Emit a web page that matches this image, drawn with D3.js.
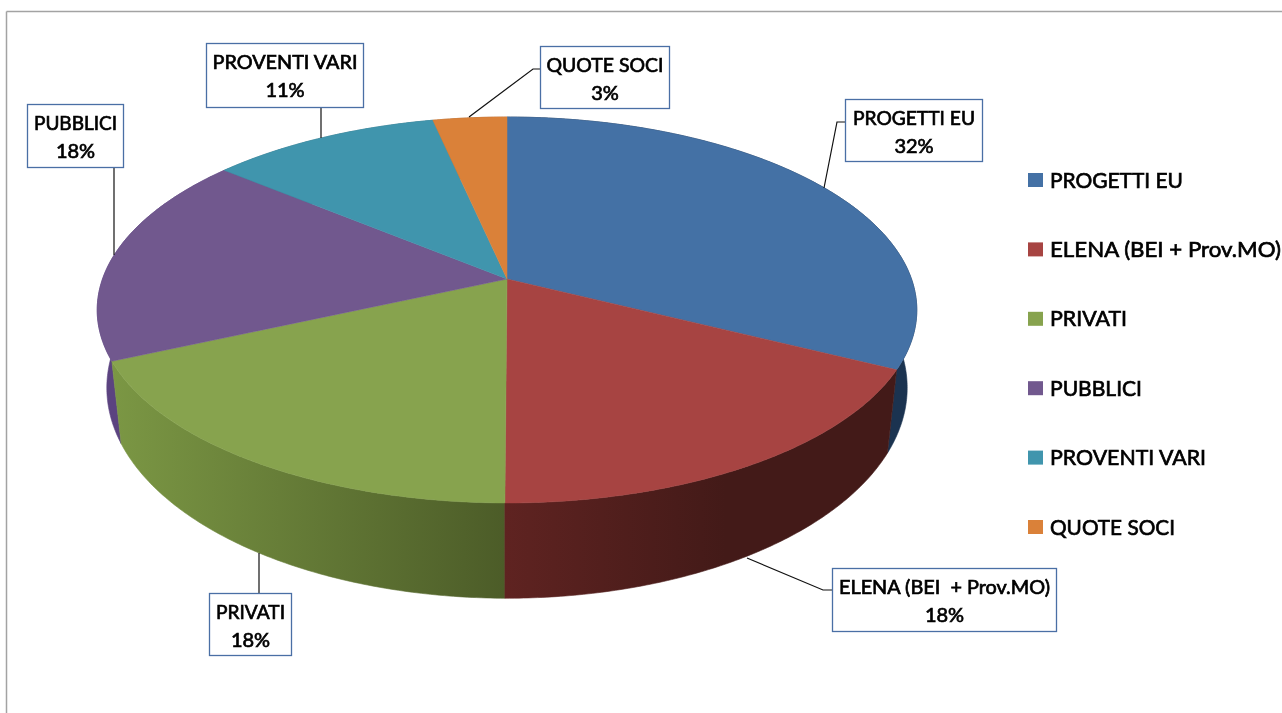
<!DOCTYPE html>
<html>
<head>
<meta charset="utf-8">
<script src="https://cdn.jsdelivr.net/npm/d3@7/dist/d3.min.js"></script>
<style>
html,body{margin:0;padding:0;background:#fff;overflow:hidden}
svg{display:block}
text{font-family:Lato,"Open Sans",sans-serif;fill:#000;white-space:pre;stroke:#000;stroke-width:.7px}
</style>
</head>
<body>
<div id="chart"></div>
<script>
// ---- data ----
const categories = ["PROGETTI EU","ELENA (BEI + Prov.MO)","PRIVATI","PUBBLICI","PROVENTI VARI","QUOTE SOCI"];
const labelNames = ["PROGETTI EU","ELENA (BEI  + Prov.MO)","PRIVATI","PUBBLICI","PROVENTI VARI","QUOTE SOCI"];
const values = [32.4,17.67,18.23,17.7,10.6,3.4];

// ---- styles ----
const topColors = ["#4471a5","#a74442","#87a34e","#71588e","#4095ad","#da8139"];
const sideStops = [
  ["#1b3350","#1b3350"],
  ["#5f2321","#431a18"],
  ["#7b9744","#4c5c28"],
  ["#5b4380","#5b4380"],
  ["#2f6f80","#2f6f80"],
  ["#a55f28","#a55f28"]
];

// ---- layout ----
const W = 1282, H = 713;
const K = 0.1606;                                    // perspective strength
const topPlane = {cx:507, cy:279, rx:404.5, ry:188}; // upper face
const lowPlane = {cx:507, cy:354, rx:395, ry:205};   // lower face
const boxes = [
  {x:845,y:99, w:137,h:62, tw:122, leader:[[845,122],[837,122],[824,188]]},
  {x:832,y:568,w:224,h:63, tw:211, leader:[[832,590],[823,590],[747,558]]},
  {x:209,y:593,w:82, h:62, tw:69,  leader:[[259,593],[259,553]]},
  {x:27, y:104,w:96, h:63, tw:83,  leader:[[114,167],[114,255]]},
  {x:206,y:43, w:157,h:64, tw:145, leader:[[321,107],[321,138]]},
  {x:540,y:46, w:129,h:62, tw:117, leader:[[540,69],[533,69],[469,117]]}
];
const legendTextWidths = [133,231,77,92,156,125];

const svg = d3.select("#chart").append("svg").attr("width",W).attr("height",H);
const defs = svg.append("defs");
defs.append("filter").attr("id","soft").attr("x","-5%").attr("y","-20%").attr("width","110%").attr("height","140%")
  .append("feGaussianBlur").attr("stdDeviation",0.35);

// frame
const frame = svg.append("g").attr("stroke","#a3a3a3").attr("stroke-width",1.5);
frame.append("line").attr("x1",6.5).attr("y1",11.5).attr("x2",W).attr("y2",11.5);
frame.append("line").attr("x1",6.5).attr("y1",11.5).attr("x2",6.5).attr("y2",H);

// pie layout: angle 0 = top, clockwise
const pie = d3.pie().sort(null).value(d=>d)(values);

function project(plane, a){
  const u = Math.sin(a), v = Math.cos(a), d = 1 + K*v;
  return [plane.cx + plane.rx*u/d, plane.cy - plane.ry*v/d];
}
function samples(s){
  const n = Math.max(8, Math.ceil((s.endAngle-s.startAngle)/0.01));
  return d3.range(n+1).map(i=>s.startAngle+(s.endAngle-s.startAngle)*i/n);
}
const line = d3.line();

// side wall gradients
pie.forEach((s,i)=>{
  const xs = samples(s).map(a=>project(topPlane,a)[0]);
  const g = defs.append("linearGradient").attr("id","side"+i)
    .attr("gradientUnits","userSpaceOnUse")
    .attr("x1",d3.min(xs)).attr("x2",i===1?d3.min(xs)+220:d3.max(xs))
    .attr("y1",0).attr("y2",0);
  g.append("stop").attr("offset",0).attr("stop-color",sideStops[i][0]);
  g.append("stop").attr("offset",1).attr("stop-color",sideStops[i][1]);
});

// side walls, back to front
const sides = svg.append("g");
[5,4,0,3,2,1].forEach(i=>{
  const angs = samples(pie[i]);
  const pts = angs.map(a=>project(topPlane,a)).concat(angs.slice().reverse().map(a=>project(lowPlane,a)));
  sides.append("path").attr("d",line(pts)+"Z")
    .attr("fill","url(#side"+i+")")
    .attr("stroke","url(#side"+i+")").attr("stroke-width",.6);
});

// upper faces
const faces = svg.append("g");
pie.forEach((s,i)=>{
  const pts = [[topPlane.cx,topPlane.cy]].concat(samples(s).map(a=>project(topPlane,a)));
  faces.append("path").attr("d",line(pts)+"Z")
    .attr("fill",topColors[i]).attr("stroke",topColors[i]).attr("stroke-width",.5);
});

// leaders and boxed data labels
const total = d3.sum(values);
const pct = d3.format(".0%");
const labels = svg.append("g");
boxes.forEach((b,i)=>{
  labels.append("path").attr("d",line(b.leader)).attr("fill","none")
    .attr("stroke","#111").attr("stroke-width",1.2);
  labels.append("rect").attr("x",b.x+.5).attr("y",b.y+.5).attr("width",b.w).attr("height",b.h)
    .attr("fill","#fff").attr("stroke","#4a6fa5").attr("stroke-width",1.3);
  const cx = b.x + b.w/2 + .5;
  labels.append("text").attr("x",cx).attr("y",b.y+26).attr("text-anchor","middle")
    .attr("font-size",20).attr("textLength",b.tw).attr("lengthAdjust","spacingAndGlyphs")
    .attr("filter","url(#soft)").text(labelNames[i]);
  labels.append("text").attr("x",cx).attr("y",b.y+54).attr("text-anchor","middle")
    .attr("font-size",20).attr("filter","url(#soft)").text(pct(values[i]/total));
});

// legend
const legY = d3.scalePoint().domain(categories).range([180,527]);
const legend = svg.append("g");
categories.forEach((c,i)=>{
  legend.append("rect").attr("x",1028).attr("y",legY(c)-7).attr("width",15).attr("height",14)
    .attr("fill",topColors[i]);
  legend.append("text").attr("x",1050).attr("y",legY(c)+7.5).attr("font-size",22)
    .attr("textLength",legendTextWidths[i]).attr("lengthAdjust","spacingAndGlyphs")
    .attr("filter","url(#soft)").text(c);
});
</script>
</body>
</html>
